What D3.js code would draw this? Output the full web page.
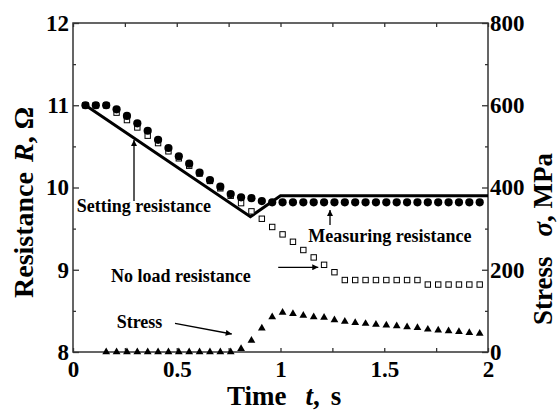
<!DOCTYPE html>
<html><head><meta charset="utf-8">
<script src="https://cdn.jsdelivr.net/npm/d3@7"></script>
<style>
body{margin:0;background:#fff}
</style>
</head><body>
<svg id="c" width="558" height="412"></svg>
<script>
// ---------- data ----------
const timeTicks = [0, 0.5, 1, 1.5, 2];
const timeTickLabels = ["0", "0.5", "1", "1.5", "2"];
const timeMinor = [0.25, 0.75, 1.25, 1.75];
const resTicks = [8, 9, 10, 11, 12];
const resMinor = [8.5, 9.5, 10.5, 11.5];
const stressTicks = [0, 200, 400, 600, 800];
const stressMinor = [100, 300, 500, 700];

const measTime = [0.06,0.11,0.16,0.21,0.26,0.31,0.36,0.41,0.46,0.51,0.56,0.61,0.66,0.71,0.76,0.81,0.86,0.91,0.96,
  1.01,1.06,1.11,1.16,1.21,1.26,1.31,1.36,1.41,1.46,1.51,1.56,1.61,1.66,1.71,1.76,1.81,1.86,1.91,1.96];
const measuringR = [11.00,11.00,11.00,10.95,10.87,10.78,10.69,10.58,10.48,10.38,10.29,10.18,10.09,10.01,9.92,9.88,9.87,9.835,9.82,
  9.82,9.82,9.82,9.82,9.82,9.82,9.82,9.82,9.82,9.82,9.82,9.82,9.82,9.82,9.82,9.82,9.82,9.82,9.82,9.82];
const noLoadR = [11.00,11.00,11.00,10.91,10.82,10.73,10.63,10.54,10.44,10.355,10.265,10.17,10.08,9.99,9.90,9.81,9.71,9.62,9.52,
  9.43,9.34,9.24,9.15,9.06,8.97,8.875,8.875,8.875,8.875,8.875,8.875,8.875,8.875,8.82,8.82,8.82,8.82,8.82,8.82];
const stressTime = [0.16,0.21,0.26,0.31,0.36,0.41,0.46,0.51,0.56,0.61,0.66,0.71,0.76,0.81,0.86,0.91,0.96,
  1.01,1.06,1.11,1.16,1.21,1.26,1.31,1.36,1.41,1.46,1.51,1.56,1.61,1.66,1.71,1.76,1.81,1.86,1.91,1.96];
const stressMPa = [0,0,0,0,0,0,0,0,0,0,0,0,0,8,28,58,85,
  96,93,89,85,84,78,74,71,69,67,65,63,61,59,55,53,51,49,47,45];
const settingTime = [0.06, 0.855, 1.0, 2.0];
const settingR = [11.0, 9.645, 9.9, 9.9];

// annotations (data units: t, R)
const labels = [
  {text:"Setting resistance", t:0.018, r:9.70},
  {text:"Measuring resistance", t:1.134, r:9.341},
  {text:"No load resistance", t:0.183, r:8.855},
  {text:"Stress", t:0.2106, r:8.288}
];
const arrows = [
  {t0:0.294, r0:9.835, t1:0.294, r1:10.578},
  {t0:1.2386, r0:9.544, t1:1.2386, r1:9.726},
  {t0:0.989, r0:9.03, t1:1.182, r1:9.03},
  {t0:0.4916, r0:8.349, t1:0.765, r1:8.219}
];

// ---------- drawing ----------
const FONT = "Liberation Serif";
const L = 73, R = 488, T = 23, B = 352;
const svg = d3.select("#c");
const x = d3.scaleLinear().domain([0, 2]).range([L, R]);
const yR = d3.scaleLinear().domain([8, 12]).range([B, T]);
const yS = d3.scaleLinear().domain([0, 800]).range([B, T]);
const axisColor = "#333";

function style(g) {
  g.attr("font-family", FONT).attr("font-size", 23);
  g.select(".domain").remove();
  g.selectAll(".tick line").attr("stroke", axisColor).attr("stroke-width", 1.3);
  g.selectAll(".tick text").attr("fill", "#000");
}

// left
svg.append("g").attr("transform", `translate(${L},0)`)
  .call(d3.axisLeft(yR).tickValues(resTicks).tickFormat(d3.format("d")).tickSizeInner(-6).tickSizeOuter(0).tickPadding(4)).call(style);
svg.append("g").attr("transform", `translate(${L},0)`)
  .call(d3.axisLeft(yR).tickValues(resMinor).tickFormat("").tickSizeInner(-3).tickSizeOuter(0)).call(style);
// right
svg.append("g").attr("transform", `translate(${R},0)`)
  .call(d3.axisRight(yS).tickValues(stressTicks).tickFormat(d3.format("d")).tickSizeInner(-6).tickSizeOuter(0).tickPadding(2)).call(style);
svg.append("g").attr("transform", `translate(${R},0)`)
  .call(d3.axisRight(yS).tickValues(stressMinor).tickFormat("").tickSizeInner(-3).tickSizeOuter(0)).call(style);
// bottom
svg.append("g").attr("transform", `translate(0,${B})`)
  .call(d3.axisBottom(x).tickValues(timeTicks).tickFormat((d, i) => timeTickLabels[i]).tickSizeInner(-4).tickSizeOuter(0).tickPadding(9)).call(style);
svg.append("g").attr("transform", `translate(0,${B})`)
  .call(d3.axisBottom(x).tickValues(timeMinor).tickFormat("").tickSizeInner(-4).tickSizeOuter(0)).call(style);
// top
svg.append("g").attr("transform", `translate(0,${T})`)
  .call(d3.axisTop(x).tickValues(timeTicks.concat(timeMinor)).tickFormat("").tickSizeInner(-4).tickSizeOuter(0)).call(style);

// frame
svg.append("rect").attr("x", L).attr("y", T).attr("width", R - L).attr("height", B - T)
  .attr("fill", "none").attr("stroke", axisColor).attr("stroke-width", 1.5);

// setting line
svg.append("path")
  .datum(settingTime.map((t, i) => [t, settingR[i]]))
  .attr("d", d3.line().x(d => x(d[0])).y(d => yR(d[1])))
  .attr("fill", "none").attr("stroke", "#000").attr("stroke-width", 3).attr("stroke-linejoin", "miter");

// no-load squares
svg.append("g").selectAll("rect").data(measTime.map((t, i) => [t, noLoadR[i]])).join("rect")
  .attr("x", d => x(d[0]) - 2.7).attr("y", d => yR(d[1]) - 2.7)
  .attr("width", 5.4).attr("height", 5.4)
  .attr("fill", "#fff").attr("stroke", "#000").attr("stroke-width", 1);

// measuring circles
svg.append("g").selectAll("circle").data(measTime.map((t, i) => [t, measuringR[i]])).join("circle")
  .attr("cx", d => x(d[0])).attr("cy", d => yR(d[1])).attr("r", 4.1).attr("fill", "#000");

// stress triangles
const tri = d3.symbol().type(d3.symbolTriangle).size(26);
svg.append("g").selectAll("path").data(stressTime.map((t, i) => [t, stressMPa[i]])).join("path")
  .attr("transform", d => `translate(${x(d[0])},${yS(d[1])})`)
  .attr("d", tri).attr("fill", "#000");

// arrows
svg.append("defs").append("marker").attr("id", "ah")
  .attr("viewBox", "0 0 10 10").attr("refX", 10).attr("refY", 5)
  .attr("markerWidth", 9).attr("markerHeight", 6).attr("markerUnits", "userSpaceOnUse")
  .attr("orient", "auto")
  .append("path").attr("d", "M0,0L10,5L0,10Z").attr("fill", "#000");
svg.append("g").selectAll("line").data(arrows).join("line")
  .attr("x1", d => x(d.t0)).attr("y1", d => yR(d.r0))
  .attr("x2", d => x(d.t1)).attr("y2", d => yR(d.r1))
  .attr("stroke", "#000").attr("stroke-width", 1.3).attr("marker-end", "url(#ah)");

// annotation labels
svg.append("g").selectAll("text").data(labels).join("text")
  .attr("x", d => x(d.t)).attr("y", d => yR(d.r))
  .attr("font-size", 18).text(d => d.text);

// axis titles
const xt = svg.append("text").attr("x", 227).attr("y", 405).attr("font-size", 27);
xt.append("tspan").text("Time");
xt.append("tspan").attr("dx", 19).attr("font-style", "italic").text("t");
xt.append("tspan").text(",");
xt.append("tspan").attr("dx", 11).text("s");

const lt = svg.append("text").attr("transform", "translate(33,298) rotate(-90)").attr("font-size", 28);
lt.append("tspan").text("Resistance");
lt.append("tspan").attr("dx", 10).attr("font-style", "italic").text("R");
lt.append("tspan").text(", Ω");

const rt = svg.append("text").attr("transform", "translate(552,325) rotate(-90)").attr("font-size", 27);
rt.append("tspan").text("Stress");
rt.append("tspan").attr("dx", 20).attr("font-style", "italic").text("σ");
rt.append("tspan").text(", MPa");

svg.selectAll("text").attr("font-family", FONT).attr("font-weight", "bold").attr("fill", "#000");
</script>
</body></html>
